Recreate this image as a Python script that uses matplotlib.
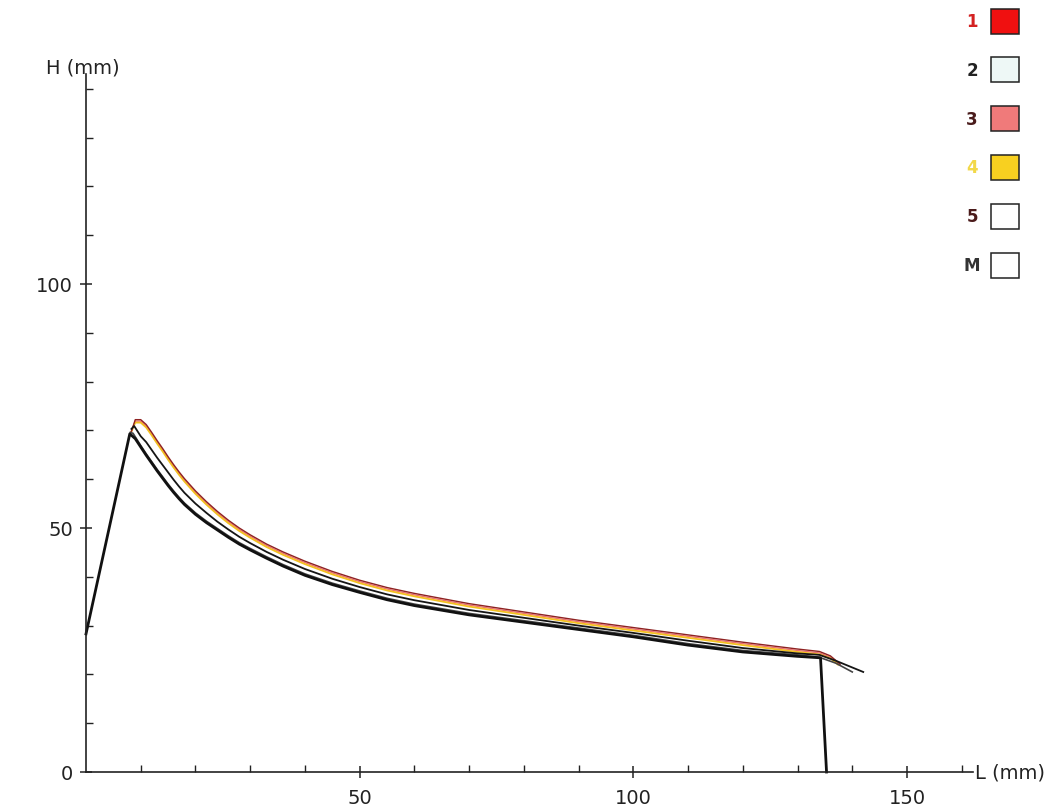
import numpy as np
import matplotlib.pyplot as plt
from matplotlib.patches import Rectangle

# shared L grid for the falling part of the curves (mm)
L_decay = [10, 11, 12, 13, 14, 15, 16, 17, 18, 20, 22, 24, 26, 28, 30, 33, 36, 40,
           45, 50, 55, 60, 70, 80, 90, 100, 110, 120, 130]

# M : thick black, with rise from the start and a drop at the end
M_L = [0, 8, 9] + L_decay + [134.2, 135.3]
M_H = [28.3, 69.3, 68.3,
       66.6, 64.9, 63.3, 61.7, 60.2, 58.7, 57.3, 56.0, 54.8, 52.8, 51.1, 49.6, 48.1,
       46.7, 45.5, 43.8, 42.2, 40.3, 38.4, 36.8, 35.3, 34.1, 32.2, 30.7, 29.2, 27.7,
       26.0, 24.6, 23.7,
       23.4, 0.0]

# 2 : dark thin line lying on M
s2_L = [8.1, 8.6] + L_decay + [134, 137, 140]
s2_H = [69.6, 69.4,
        66.9, 65.2, 63.6, 62.0, 60.5, 59.0, 57.6, 56.3, 55.1, 53.1, 51.4, 49.9, 48.4,
        47.0, 45.8, 44.1, 42.5, 40.6, 38.7, 37.1, 35.6, 34.4, 32.5, 31.0, 29.5, 28.0,
        26.3, 24.9, 24.0,
        23.5, 22.3, 20.5]

# 5 : black thin middle line
s5_L = [8.3, 8.8] + L_decay + [134, 137, 142]
s5_H = [70.3, 70.9,
        68.8, 67.6, 66.0, 64.4, 62.9, 61.4, 59.9, 58.5, 57.2, 55.0, 53.1, 51.3, 49.7,
        48.2, 46.9, 45.1, 43.5, 41.6, 39.6, 37.9, 36.4, 35.2, 33.2, 31.6, 30.0, 28.5,
        26.9, 25.4, 24.3,
        24.0, 22.8, 20.5]

# 1 : red top line
s1_L = [8.3, 9.0] + L_decay + [134, 136, 137.8]
s1_H = [69.8, 72.2,
        72.2, 71.2, 69.6, 67.9, 66.3, 64.6, 63.0, 61.5, 60.1, 57.6, 55.4, 53.4, 51.6,
        50.0, 48.6, 46.7, 45.1, 43.2, 41.1, 39.3, 37.8, 36.6, 34.5, 32.8, 31.1, 29.6,
        28.1, 26.6, 25.2,
        24.7, 23.8, 22.1]

# 3 : pink, just under red
s3_L = [8.3, 9.0] + L_decay + [134, 136, 137.6]
s3_H = [69.8, 71.9,
        71.9, 70.9, 69.3, 67.6, 66.0, 64.3, 62.7, 61.2, 59.8, 57.3, 55.1, 53.1, 51.3,
        49.7, 48.3, 46.4, 44.8, 42.9, 40.8, 39.0, 37.5, 36.3, 34.2, 32.5, 30.8, 29.3,
        27.8, 26.3, 24.9,
        24.4, 23.5, 22.0]

# 4 : yellow, under red
s4_L = [8.3, 9.0] + L_decay + [134, 136, 137.4]
s4_H = [69.8, 71.6,
        71.6, 70.6, 69.0, 67.3, 65.7, 64.0, 62.4, 60.9, 59.5, 57.0, 54.8, 52.8, 51.0,
        49.4, 48.0, 46.1, 44.5, 42.6, 40.5, 38.7, 37.2, 36.0, 33.9, 32.2, 30.5, 29.0,
        27.5, 26.0, 24.6,
        24.1, 23.3, 22.0]

legend_labels = ['1', '2', '3', '4', '5', 'M']
legend_text_colors = ['#d42222', '#222222', '#4a1c1c', '#f2d848', '#4a1a1a', '#333333']
legend_fill = ['#f01010', '#eef8f6', '#f07a7a', '#f8d020', '#ffffff', '#ffffff']

W, H = 1059, 812
fig = plt.figure(figsize=(W / 100, H / 100), dpi=100)

x0_px, x150_px = 86, 907
y0_px, y50_px = 773, 529
ppx = (x150_px - x0_px) / 150
ppy = (y0_px - y50_px) / 50
xmax, ymax = (973 - x0_px) / ppx, (y0_px - 75) / ppy

ax = fig.add_axes([x0_px / W, (H - y0_px) / H, (973 - x0_px) / W, (y0_px - 75) / H])
ax.set_xlim(0, xmax)
ax.set_ylim(0, ymax)
ax.patch.set_alpha(0)
for s in ['top', 'right']:
    ax.spines[s].set_visible(False)
for s in ['left', 'bottom']:
    ax.spines[s].set_linewidth(1.2)
    ax.spines[s].set_color('#222222')

ax.set_xticks([50, 100, 150])
ax.set_xticks([10, 20, 30, 40, 60, 70, 80, 90, 110, 120, 130, 140, 160], minor=True)
ax.set_yticks([0, 50, 100])
ax.set_yticks([10, 20, 30, 40, 60, 70, 80, 90, 110, 120, 130, 140], minor=True)
ax.tick_params(which='major', direction='inout', length=9, width=1.1, color='#222222',
               labelsize=14, pad=5, labelcolor='#222222')
ax.tick_params(which='minor', direction='in', length=5, width=1.0, color='#222222')
ax.tick_params(axis='x', which='major', pad=7)

ax.plot(s3_L, s3_H, color='#f07070', lw=1.0, clip_on=False)
ax.plot(s4_L, s4_H, color='#f2c020', lw=1.3, clip_on=False)
ax.plot(s1_L, s1_H, color='#8e2222', lw=1.0, clip_on=False)
ax.plot(s2_L, s2_H, color='#444444', lw=1.2, clip_on=False)
ax.plot(s5_L, s5_H, color='#151515', lw=1.3, clip_on=False)
ax.plot(M_L, M_H, color='#111111', lw=2.0, clip_on=False)

fig.text(83 / W, 1 - 68 / H, 'H (mm)', ha='center', va='center', fontsize=14, color='#222222')
fig.text(975 / W, 1 - 773 / H, 'L (mm)', ha='left', va='center', fontsize=14, color='#222222')

# legend boxes at top right
for i, lab in enumerate(legend_labels):
    yc = 22 + i * 48.8
    fig.text(972 / W, 1 - yc / H, lab, ha='center', va='center', fontsize=12,
             fontweight='bold', color=legend_text_colors[i])
    fig.add_artist(Rectangle((991 / W, 1 - (yc + 12.5) / H), 28 / W, 25 / H,
                             transform=fig.transFigure, facecolor=legend_fill[i],
                             edgecolor='#222222', lw=1.1))

fig.savefig('out.png', dpi=100)
